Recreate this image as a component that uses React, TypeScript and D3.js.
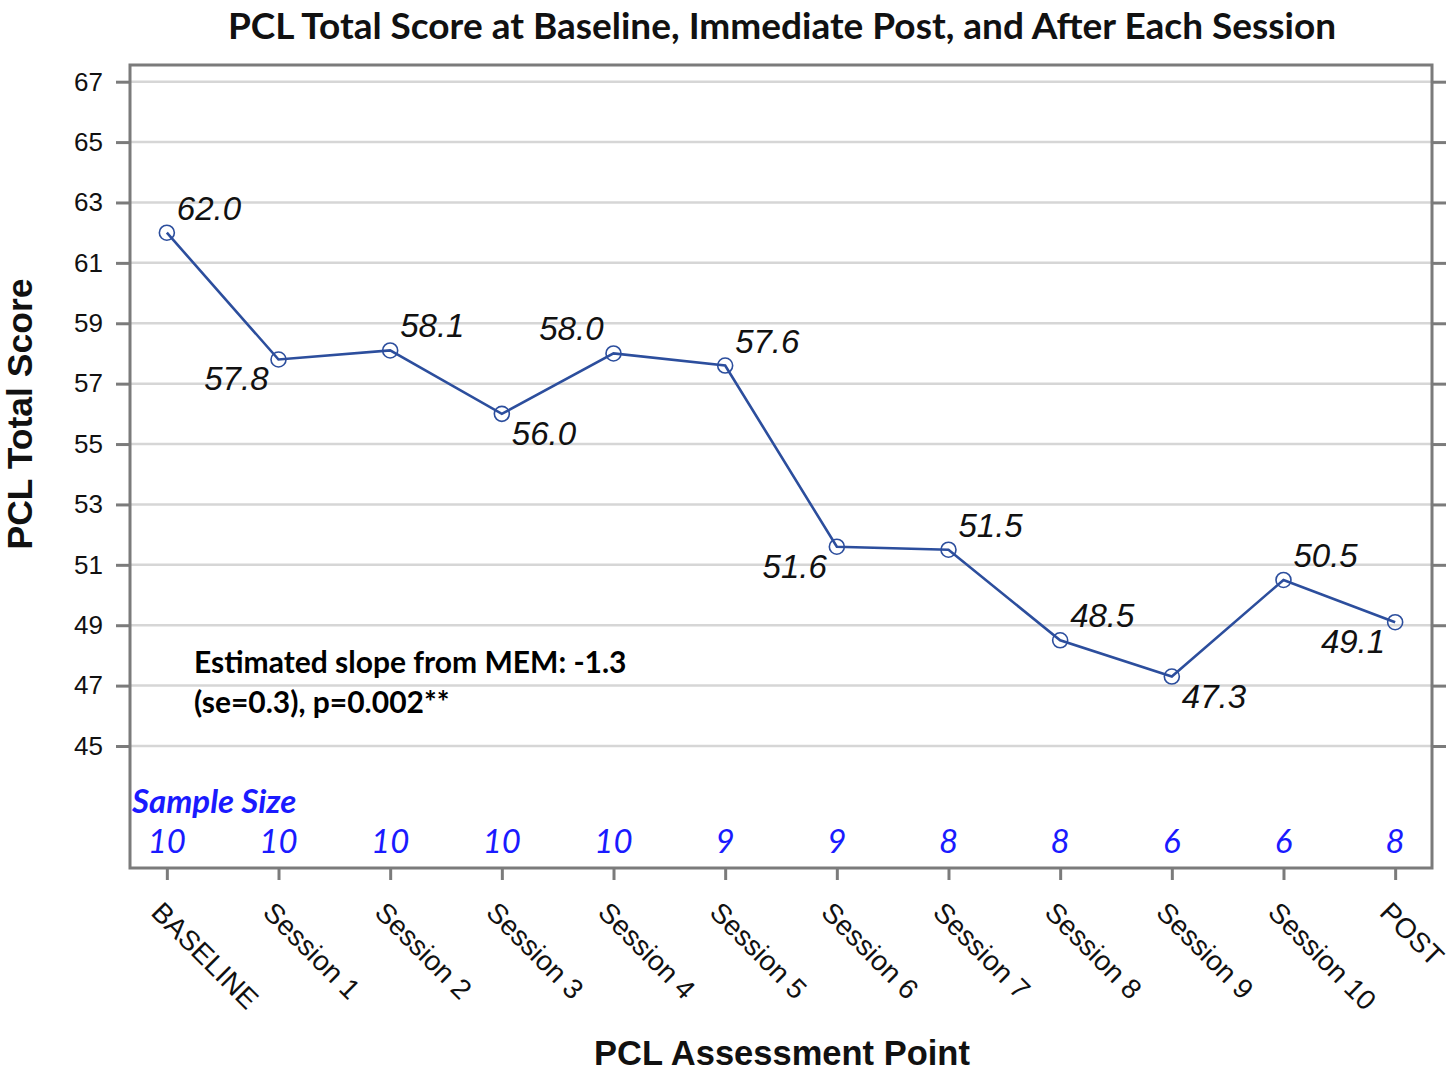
import { useEffect, useRef } from 'react';
import * as d3 from 'd3';

const categories = [
    'BASELINE', 'Session 1', 'Session 2', 'Session 3', 'Session 4', 'Session 5',
    'Session 6', 'Session 7', 'Session 8', 'Session 9', 'Session 10', 'POST',
];
const scores = [62.0, 57.8, 58.1, 56.0, 58.0, 57.6, 51.6, 51.5, 48.5, 47.3, 50.5, 49.1];
const sampleSizes = [10, 10, 10, 10, 10, 9, 9, 8, 8, 6, 6, 8];
const yTicks = [45, 47, 49, 51, 53, 55, 57, 59, 61, 63, 65, 67];
// where each value label sits relative to its marker (u/l = upper/lower, l/r = left/right)
const labelSides = ['ur', 'll', 'ur', 'lr', 'ul', 'ur', 'll', 'ur', 'ur', 'lr', 'ur', 'll'];
const noteLines = ['Estimated slope from MEM: -1.3', '(se=0.3), p=0.002**'];

const W = 1450;
const H = 1072;
const left = 130;
const right = 1432;
const top = 65;
const bottom = 868;

const ARIAL = '"Liberation Sans", Arial, sans-serif';
const CALIBRI = 'Lato, "Open Sans", sans-serif';
const LINE_BLUE = '#2c4e9d';
const AXIS_GREY = '#7b7b7b';
const SIZE_BLUE = '#1a1aff';

export default function App() {
    const svgRef = useRef(null);

    useEffect(() => {
        const svg = d3.select(svgRef.current);
        svg.selectAll('*').remove();

        const x = d3.scalePoint().domain(categories).range([left, right]).padding(0.33);
        const y = d3.scaleLinear().domain([45, 67]).range([746, 81.7]);

        // grid
        svg.append('g')
            .selectAll('line')
            .data(yTicks)
            .join('line')
            .attr('x1', left)
            .attr('x2', right)
            .attr('y1', (d) => y(d))
            .attr('y2', (d) => y(d))
            .attr('stroke', '#d6d6d6')
            .attr('stroke-width', 2.5);

        // y axis left with labels
        const yAxis = svg.append('g')
            .attr('transform', `translate(${left},0)`)
            .call(d3.axisLeft(y).tickValues(yTicks).tickSize(14).tickPadding(13).tickFormat(d3.format('d')));
        yAxis.select('.domain').remove();
        yAxis.selectAll('line').attr('stroke', AXIS_GREY).attr('stroke-width', 3);
        yAxis.selectAll('text')
            .attr('fill', '#111')
            .style('font-family', ARIAL)
            .style('font-size', '26px');

        // y axis right, ticks only
        const yAxisR = svg.append('g')
            .attr('transform', `translate(${right},0)`)
            .call(d3.axisRight(y).tickValues(yTicks).tickSize(14).tickFormat(() => ''));
        yAxisR.select('.domain').remove();
        yAxisR.selectAll('line').attr('stroke', AXIS_GREY).attr('stroke-width', 3);

        // x axis
        const xAxis = svg.append('g')
            .attr('transform', `translate(0,${bottom})`)
            .call(d3.axisBottom(x).tickSize(12).tickFormat(() => ''));
        xAxis.select('.domain').remove();
        xAxis.selectAll('line').attr('stroke', AXIS_GREY).attr('stroke-width', 3);

        svg.append('g')
            .selectAll('text')
            .data(categories)
            .join('text')
            .attr('transform', (d) => `translate(${x(d) - 17},914) rotate(45)`)
            .attr('fill', '#111')
            .style('font-family', ARIAL)
            .style('font-size', '28px')
            .text((d) => d);

        // frame
        svg.append('rect')
            .attr('x', left)
            .attr('y', top)
            .attr('width', right - left)
            .attr('height', bottom - top)
            .attr('fill', 'none')
            .attr('stroke', AXIS_GREY)
            .attr('stroke-width', 3);

        // series
        const line = d3.line()
            .x((_, i) => x(categories[i]))
            .y((d) => y(d));
        svg.append('path')
            .datum(scores)
            .attr('d', line)
            .attr('fill', 'none')
            .attr('stroke', LINE_BLUE)
            .attr('stroke-width', 2.6);

        svg.append('g')
            .selectAll('circle')
            .data(scores)
            .join('circle')
            .attr('cx', (_, i) => x(categories[i]))
            .attr('cy', (d) => y(d))
            .attr('r', 7.5)
            .attr('fill', 'none')
            .attr('stroke', LINE_BLUE)
            .attr('stroke-width', 1.6);

        svg.append('g')
            .selectAll('text')
            .data(scores)
            .join('text')
            .attr('x', (_, i) => x(categories[i]) + (labelSides[i][1] === 'r' ? 10 : -10))
            .attr('y', (d, i) => y(d) + (labelSides[i][0] === 'u' ? -13 : 31))
            .attr('text-anchor', (_, i) => (labelSides[i][1] === 'r' ? 'start' : 'end'))
            .attr('fill', '#111')
            .style('font-family', ARIAL)
            .style('font-style', 'italic')
            .style('font-size', '33px')
            .text((d) => d.toFixed(1));

        // annotation
        svg.append('g')
            .selectAll('text')
            .data(noteLines)
            .join('text')
            .attr('x', 194)
            .attr('y', (_, i) => 673 + i * 40)
            .attr('fill', '#000')
            .style('font-family', CALIBRI)
            .style('font-weight', 'bold')
            .style('font-size', '30px')
            .text((d) => d);

        // sample size row
        svg.append('text')
            .attr('x', 132)
            .attr('y', 813)
            .attr('fill', SIZE_BLUE)
            .style('font-family', CALIBRI)
            .style('font-weight', 'bold')
            .style('font-style', 'italic')
            .style('font-size', '33px')
            .text('Sample Size');

        svg.append('g')
            .selectAll('text')
            .data(sampleSizes)
            .join('text')
            .attr('x', (_, i) => x(categories[i]))
            .attr('y', 853)
            .attr('text-anchor', 'middle')
            .attr('fill', SIZE_BLUE)
            .style('font-family', CALIBRI)
            .style('font-style', 'italic')
            .style('font-size', '33px')
            .text((d) => d);

        // titles
        svg.append('text')
            .attr('x', 782)
            .attr('y', 39)
            .attr('text-anchor', 'middle')
            .attr('fill', '#111')
            .style('font-family', CALIBRI)
            .style('font-weight', 'bold')
            .style('font-size', '37px')
            .text('PCL Total Score at Baseline, Immediate Post, and After Each Session');

        svg.append('text')
            .attr('x', 782)
            .attr('y', 1065)
            .attr('text-anchor', 'middle')
            .attr('fill', '#111')
            .style('font-family', ARIAL)
            .style('font-weight', 'bold')
            .style('font-size', '34.5px')
            .text('PCL Assessment Point');

        svg.append('text')
            .attr('transform', 'translate(32,414) rotate(-90)')
            .attr('text-anchor', 'middle')
            .attr('fill', '#111')
            .style('font-family', ARIAL)
            .style('font-weight', 'bold')
            .style('font-size', '35.5px')
            .text('PCL Total Score');
    }, []);

    return (
        <div style={{ position: 'absolute', left: 0, top: 0, background: '#fff' }}>
            <svg ref={svgRef} width={W} height={H} style={{ display: 'block' }} />
        </div>
    );
}
